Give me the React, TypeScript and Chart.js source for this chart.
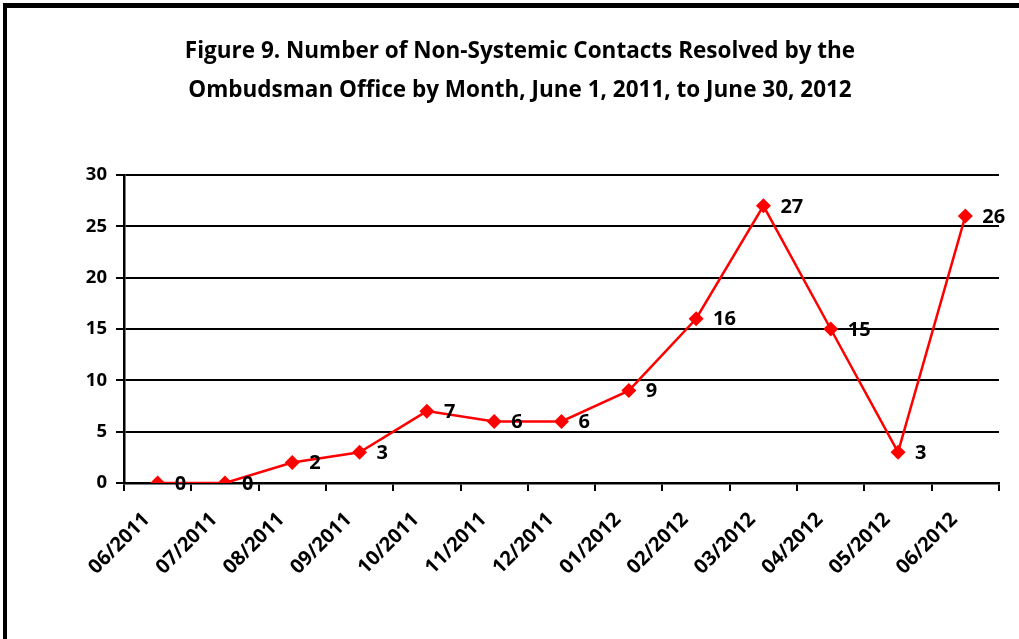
import React, { useEffect, useRef } from "react";
import { Chart, registerables } from "chart.js";

Chart.register(...registerables);

const titleLines = [
  "Figure 9. Number of Non-Systemic Contacts Resolved by the",
  "Ombudsman Office by Month, June 1, 2011, to June 30, 2012",
];
const months = [
  "06/2011", "07/2011", "08/2011", "09/2011", "10/2011", "11/2011", "12/2011",
  "01/2012", "02/2012", "03/2012", "04/2012", "05/2012", "06/2012",
];
const contacts = [0, 0, 2, 3, 7, 6, 6, 9, 16, 27, 15, 3, 26];
const yTicks = [0, 5, 10, 15, 20, 25, 30];

const FONT = "'Open Sans', Lato, sans-serif";

const labelPlugin = {
  id: "pointLabels",
  afterDatasetsDraw(chart: any) {
    const ctx = chart.ctx;
    const meta = chart.getDatasetMeta(0);
    ctx.save();
    ctx.font = `bold 20px ${FONT}`;
    ctx.fillStyle = "#000";
    ctx.textAlign = "left";
    ctx.textBaseline = "middle";
    meta.data.forEach((pt: any, i: number) => {
      ctx.fillText(String(contacts[i]), pt.x + 17, pt.y + 1);
    });
    ctx.restore();
  },
};

const titlePlugin = {
  id: "customTitle",
  afterDraw(chart: any) {
    const ctx = chart.ctx;
    ctx.save();
    ctx.font = `bold 22.5px ${FONT}`;
    ctx.fillStyle = "#000";
    ctx.textAlign = "center";
    ctx.textBaseline = "middle";
    ctx.fillText(titleLines[0], 520, 52);
    ctx.fillText(titleLines[1], 520, 91);
    ctx.restore();
  },
};

export default function App() {
  const ref = useRef<HTMLCanvasElement>(null);
  useEffect(() => {
    const chart = new Chart(ref.current!, {
      type: "line",
      data: {
        labels: months,
        datasets: [
          {
            data: contacts,
            borderColor: "#ff0000",
            backgroundColor: "#ff0000",
            borderWidth: 2.5,
            pointStyle: "rectRot",
            pointRadius: 7.5,
            pointBorderWidth: 0,
            tension: 0,
          },
        ],
      },
      options: {
        animation: false,
        responsive: false,
        events: [],
        layout: { padding: { top: 175, left: 0, right: 20, bottom: 0 } },
        plugins: { legend: { display: false }, tooltip: { enabled: false }, title: { display: false } },
        scales: {
          x: {
            offset: true,
            grid: {
              offset: true,
              drawOnChartArea: false,
              drawTicks: true,
              tickLength: 8,
              color: "#000",
              lineWidth: 2,
            },
            border: { color: "#000", width: 2.5 },
            ticks: {
              color: "#000",
              font: { family: FONT, size: 20, weight: "bold" },
              minRotation: 45,
              maxRotation: 45,
              padding: 17,
              labelOffset: -11,
            },
            afterFit(scale: any) {
              scale.height = 156;
            },
          },
          y: {
            min: 0,
            max: 30,
            afterBuildTicks(scale: any) {
              scale.ticks = yTicks.map((v) => ({ value: v }));
            },
            grid: { color: "#000", lineWidth: 2, tickLength: 8 },
            border: { color: "#000", width: 2.5 },
            ticks: {
              color: "#000",
              font: { family: FONT, size: 18.5, weight: "bold" },
              padding: 9,
            },
            afterFit(scale: any) {
              scale.width = 124;
            },
          },
        },
      },
      plugins: [labelPlugin, titlePlugin],
    });
    return () => chart.destroy();
  }, []);
  return (
    <div style={{ position: "fixed", left: 0, top: 0, width: 1019, height: 639, background: "#fff", overflow: "hidden" }}>
      <div
        style={{
          position: "absolute",
          left: 3,
          top: 3,
          width: 1200,
          height: 900,
          borderTop: "5px solid #000",
          borderLeft: "4px solid #000",
        }}
      />
      <canvas ref={ref} width={1019} height={639} style={{ position: "absolute", left: 0, top: 0 }} />
    </div>
  );
}
